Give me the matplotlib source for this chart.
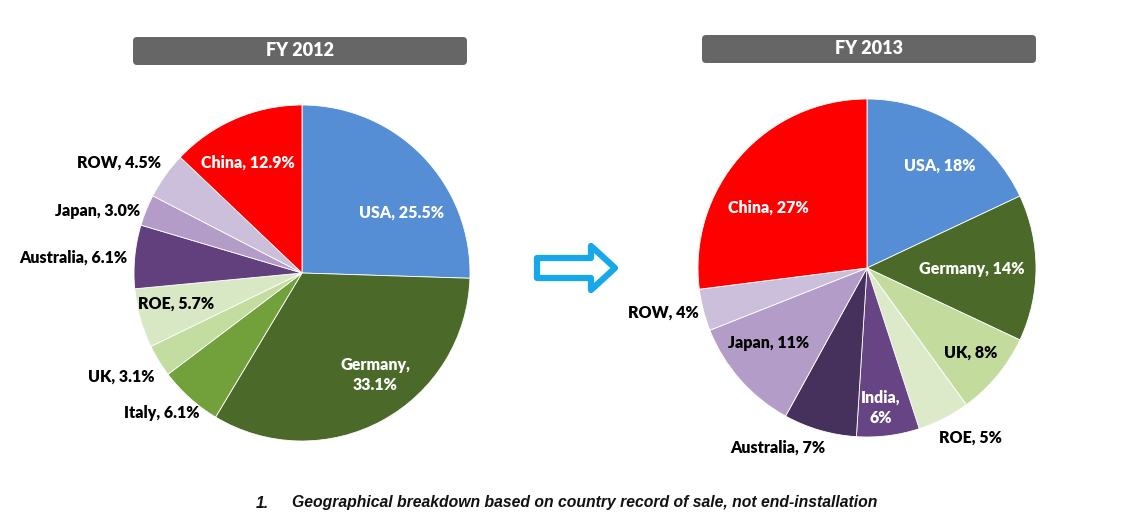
import matplotlib.pyplot as plt
from matplotlib.patches import FancyBboxPatch, Polygon

# FY 2012 breakdown
labels_2012 = ["USA", "Germany", "Italy", "UK", "ROE", "Australia", "Japan", "ROW", "China"]
values_2012 = [25.5, 33.1, 6.1, 3.1, 5.7, 6.1, 3.0, 4.5, 12.9]
text_2012 = ["USA, 25.5%", "Germany,\n33.1%", "Italy, 6.1%", "UK, 3.1%", "ROE, 5.7%",
             "Australia, 6.1%", "Japan, 3.0%", "ROW, 4.5%", "China, 12.9%"]

# FY 2013 breakdown
labels_2013 = ["USA", "Germany", "UK", "ROE", "India", "Australia", "Japan", "ROW", "China"]
values_2013 = [18, 14, 8, 5, 6, 7, 11, 4, 27]
text_2013 = ["USA, 18%", "Germany, 14%", "UK, 8%", "ROE, 5%", "India,\n6%",
             "Australia, 7%", "Japan, 11%", "ROW, 4%", "China, 27%"]

colors_2012 = ["#558ed5", "#4b6a29", "#72a03a", "#c3dc9f", "#d9e8c4",
               "#623f7d", "#b49cc9", "#ccbfdc", "#ff0000"]
colors_2013 = ["#558ed5", "#4b6a29", "#c3db9c", "#dceac9", "#674483",
               "#46305c", "#b49cc9", "#ccbfdc", "#ff0000"]
white_2012 = [True, True, False, False, False, False, False, False, True]
white_2013 = [True, True, False, False, True, False, False, False, True]

# label offsets from the pie centre, in radius units
pos_2012 = [(0.595, 0.357), (0.435, -0.607), (-0.833, -0.833), (-1.077, -0.619),
            (-0.75, -0.185), (-1.363, 0.089), (-1.214, 0.369), (-1.089, 0.655),
            (-0.321, 0.655)]
pos_2013 = [(0.432, 0.604), (0.621, -0.006), (0.615, -0.503), (0.615, -1.006),
            (0.083, -0.828), (-0.527, -1.065), (-0.58, -0.444), (-1.207, -0.266),
            (-0.586, 0.355)]

W, H = 1139, 529
fig = plt.figure(figsize=(W / 100, H / 100), dpi=100)
ax = fig.add_axes([0, 0, 1, 1])

font = "Lato"


def draw_pie(values, colors, texts, whites, pos, cx, cy, r):
    ax.pie(values, colors=colors, startangle=90, counterclock=False,
           center=(cx, cy), radius=r,
           wedgeprops=dict(edgecolor="white", linewidth=0.6))
    for t, w, (dx, dy) in zip(texts, whites, pos):
        ax.text(cx + dx * r, cy + dy * r, t, ha="center", va="center",
                fontsize=11.5, fontweight="heavy", family=font,
                color="white" if w else "black", linespacing=1.3)


draw_pie(values_2012, colors_2012, text_2012, white_2012, pos_2012, 302, H - 273, 168)
draw_pie(values_2013, colors_2013, text_2013, white_2013, pos_2013, 867, H - 268, 169)

# title boxes
for x0, y0, title in [(133, 37, "FY 2012"), (702, 35, "FY 2013")]:
    box = FancyBboxPatch((x0 + 4, H - y0 - 28 + 4), 334 - 8, 28 - 8,
                         boxstyle="round,pad=4", facecolor="#666666", edgecolor="none")
    ax.add_patch(box)
    ax.text(x0 + 167, H - y0 - 14, title, ha="center", va="center",
            fontsize=13, fontweight="heavy", family=font, color="white")

# arrow between the pies
arrow = [(537, H - 258), (591, H - 258), (591, H - 246), (615, H - 268),
         (591, H - 290), (591, H - 278), (537, H - 278)]
ax.add_patch(Polygon(arrow, closed=True, facecolor="white", edgecolor="#17a8ea",
                     linewidth=4.5, joinstyle="round"))

# footnote
ax.text(256, H - 503, "1.", ha="left", va="center", fontsize=11.3,
        fontweight="bold", style="italic", family="Liberation Sans", color="#111111")
ax.text(292, H - 503, "Geographical breakdown based on country record of sale, not end-installation",
        ha="left", va="center", fontsize=11.3, fontweight="bold", style="italic",
        family="Liberation Sans", color="#111111")

ax.set_xlim(0, W)
ax.set_ylim(0, H)
ax.set_aspect("auto")
ax.axis("off")

fig.savefig("out.png", dpi=100)
